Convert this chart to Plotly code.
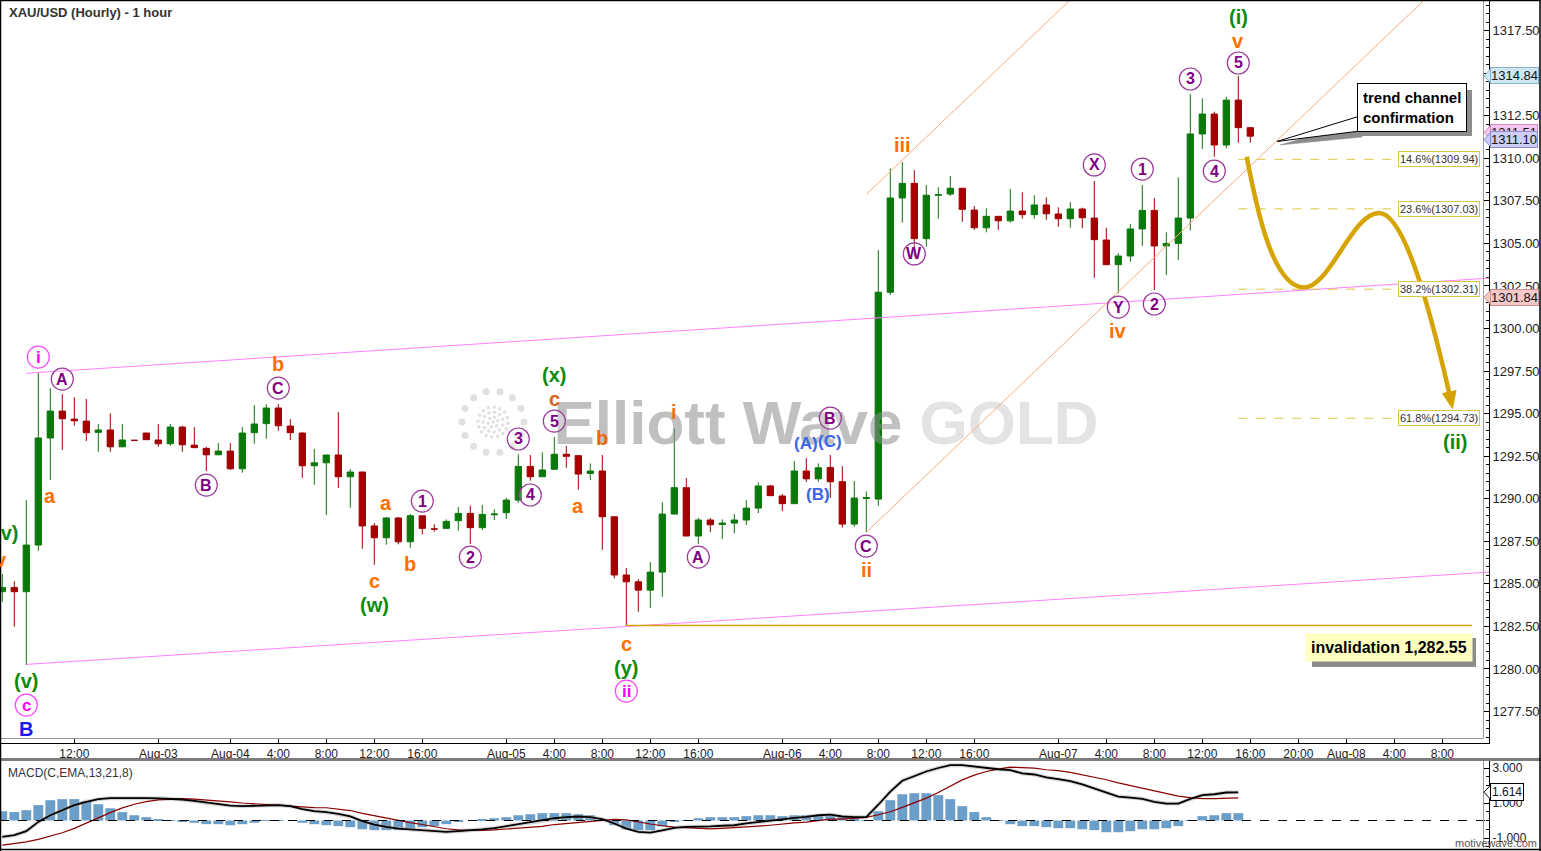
import math
import plotly.graph_objects as go

# ---------------- data ----------------
bars = list(range(105))
opens = [1284.54, 1284.79, 1284.54, 1287.28, 1293.57, 1295.15, 1294.68, 1294.56, 1293.90, 1294.04,
         1293.05, 1293.43, 1293.86, 1293.45, 1293.23, 1294.21, 1293.15, 1292.96, 1292.58, 1292.80,
         1291.76, 1293.88, 1294.41, 1295.33, 1294.27, 1293.86, 1291.94, 1292.11, 1292.57, 1291.29,
         1291.57, 1288.40, 1287.71, 1288.87, 1287.47, 1289.00, 1288.22, 1288.26, 1288.71, 1289.14,
         1288.30, 1289.06, 1289.18, 1289.92, 1291.90, 1291.29, 1291.73, 1292.61, 1292.53, 1291.49,
         1291.63, 1288.94, 1285.52, 1285.12, 1284.63, 1285.69, 1289.10, 1290.65, 1287.81, 1288.75,
         1288.49, 1288.57, 1288.75, 1289.45, 1290.75, 1290.16, 1289.71, 1291.63, 1291.17, 1291.84,
         1291.00, 1288.51, 1290.02, 1289.98, 1302.13, 1307.67, 1308.53, 1305.28, 1307.83, 1307.90,
         1308.24, 1306.96, 1305.92, 1306.59, 1306.33, 1306.90, 1306.69, 1307.26, 1306.73, 1306.45,
         1307.02, 1306.49, 1305.20, 1303.75, 1304.26, 1305.85, 1306.94, 1304.85, 1305.00, 1306.49,
         1311.43, 1312.60, 1310.78, 1313.42, 1311.80]
highs = [1285.58, 1285.16, 1289.92, 1297.40, 1296.49, 1296.15, 1295.96, 1295.86, 1294.39, 1295.02,
         1294.39, 1293.45, 1293.86, 1294.39, 1294.39, 1294.29, 1294.21, 1293.05, 1293.27, 1293.27,
         1294.21, 1295.50, 1295.55, 1295.57, 1294.68, 1293.90, 1292.92, 1292.57, 1295.09, 1291.74,
         1291.57, 1288.57, 1288.92, 1288.92, 1289.10, 1289.00, 1288.50, 1288.79, 1289.51, 1289.59,
         1289.63, 1289.38, 1290.06, 1292.61, 1292.57, 1292.73, 1293.62, 1293.10, 1292.53, 1292.08,
         1292.57, 1288.94, 1285.93, 1285.28, 1286.28, 1289.79, 1294.14, 1291.22, 1288.87, 1288.87,
         1288.79, 1289.10, 1289.92, 1290.96, 1290.82, 1290.28, 1292.21, 1292.39, 1292.08, 1292.57,
         1291.92, 1291.04, 1290.43, 1304.61, 1309.41, 1309.78, 1309.31, 1308.43, 1308.30, 1308.96,
         1308.24, 1307.20, 1307.06, 1306.59, 1308.20, 1308.00, 1307.83, 1307.71, 1307.12, 1307.43,
         1307.10, 1308.67, 1305.92, 1304.42, 1306.14, 1308.43, 1307.67, 1305.65, 1308.88, 1313.76,
         1313.52, 1312.74, 1313.62, 1314.84, 1311.80]
lows = [1283.95, 1282.48, 1280.23, 1286.94, 1291.10, 1292.86, 1294.29, 1293.39, 1292.76, 1292.76,
        1293.05, 1293.41, 1293.47, 1293.05, 1293.11, 1292.76, 1293.00, 1291.63, 1292.58, 1291.69,
        1291.53, 1293.23, 1293.52, 1293.99, 1293.45, 1291.22, 1290.82, 1289.04, 1290.63, 1289.47,
        1287.06, 1286.12, 1287.30, 1287.32, 1287.12, 1287.91, 1288.06, 1288.26, 1288.12, 1287.34,
        1288.16, 1288.75, 1288.81, 1289.76, 1291.06, 1291.29, 1291.73, 1291.82, 1290.53, 1291.10,
        1286.99, 1285.32, 1282.55, 1283.36, 1283.59, 1284.24, 1289.10, 1287.81, 1287.34, 1288.04,
        1287.63, 1287.98, 1288.45, 1289.16, 1290.18, 1289.28, 1289.71, 1290.98, 1291.00, 1290.06,
        1288.30, 1288.35, 1288.03, 1289.59, 1301.97, 1306.22, 1304.22, 1304.81, 1306.45, 1307.78,
        1306.27, 1305.79, 1305.65, 1305.79, 1306.22, 1306.45, 1306.45, 1306.39, 1305.98, 1305.92,
        1305.89, 1302.98, 1303.75, 1302.07, 1303.92, 1304.85, 1302.26, 1303.14, 1304.02, 1305.75,
        1310.55, 1310.09, 1310.59, 1310.92, 1310.92]
closes = [1284.79, 1284.54, 1287.28, 1293.57, 1295.15, 1294.70, 1294.58, 1293.88, 1294.04, 1293.05,
          1293.45, 1293.43, 1293.47, 1293.23, 1294.21, 1293.17, 1293.00, 1292.58, 1292.80, 1291.76,
          1293.86, 1294.39, 1295.33, 1294.29, 1293.88, 1291.94, 1292.11, 1292.57, 1291.29, 1291.57,
          1288.40, 1287.71, 1288.87, 1287.47, 1289.00, 1288.26, 1288.22, 1288.67, 1289.14, 1288.30,
          1289.08, 1289.10, 1289.92, 1291.90, 1291.29, 1291.69, 1292.61, 1292.49, 1291.45, 1291.63,
          1288.94, 1285.52, 1285.12, 1284.63, 1285.69, 1289.10, 1290.65, 1287.81, 1288.75, 1288.47,
          1288.57, 1288.75, 1289.45, 1290.75, 1290.18, 1289.71, 1291.63, 1291.17, 1291.82, 1291.00,
          1288.51, 1290.04, 1290.06, 1302.13, 1307.67, 1308.53, 1305.28, 1307.83, 1307.87, 1308.24,
          1307.00, 1305.92, 1306.59, 1306.33, 1306.90, 1306.69, 1307.26, 1306.74, 1306.45, 1307.02,
          1306.51, 1305.22, 1303.75, 1304.26, 1305.85, 1306.94, 1304.85, 1305.00, 1306.49, 1311.43,
          1312.60, 1310.78, 1313.42, 1311.80, 1311.30]

macd_hist = [0.53, 0.48, 0.59, 0.88, 1.16, 1.22, 1.22, 1.10, 0.93, 0.70,
             0.48, 0.30, 0.19, 0.08, 0.02, -0.08, -0.13, -0.21, -0.21, -0.27,
             -0.21, -0.13, -0.02, 0.01, 0.0, -0.13, -0.21, -0.27, -0.32, -0.38,
             -0.50, -0.55, -0.55, -0.55, -0.44, -0.38, -0.32, -0.21, -0.08, 0.0,
             0.08, 0.13, 0.19, 0.30, 0.36, 0.42, 0.42, 0.42, 0.36, 0.30,
             0.06, -0.27, -0.50, -0.55, -0.55, -0.34, -0.08, 0.02, 0.13, 0.19,
             0.19, 0.19, 0.25, 0.30, 0.30, 0.25, 0.30, 0.30, 0.30, 0.25,
             0.19, 0.11, 0.02, 0.53, 1.16, 1.50, 1.56, 1.56, 1.45, 1.22,
             0.82, 0.48, 0.19, -0.02, -0.21, -0.32, -0.32, -0.38, -0.44, -0.44,
             -0.50, -0.55, -0.67, -0.67, -0.61, -0.50, -0.50, -0.44, -0.32, -0.02,
             0.25, 0.30, 0.42, 0.42, None]
macd_line = [-0.93, -0.84, -0.61, -0.08, 0.30, 0.59, 0.88, 1.07, 1.22, 1.28,
             1.29, 1.29, 1.28, 1.27, 1.25, 1.20, 1.12, 1.02, 0.93, 0.85,
             0.82, 0.84, 0.88, 0.88, 0.82, 0.65, 0.53, 0.48, 0.38, 0.23,
             -0.04, -0.23, -0.36, -0.46, -0.51, -0.55, -0.61, -0.65, -0.61, -0.57,
             -0.51, -0.44, -0.32, -0.21, -0.10, 0.0, 0.13, 0.19, 0.23, 0.19,
             0.08, -0.17, -0.46, -0.65, -0.69, -0.57, -0.42, -0.36, -0.36, -0.34,
             -0.30, -0.27, -0.17, -0.08, 0.0, 0.06, 0.15, 0.21, 0.30, 0.34,
             0.23, 0.19, 0.19, 0.90, 1.65, 2.27, 2.55, 2.80, 3.00, 3.17,
             3.16, 3.07, 3.01, 2.93, 2.88, 2.69, 2.63, 2.46, 2.36, 2.25,
             2.06, 1.83, 1.60, 1.37, 1.31, 1.24, 1.07, 0.97, 0.97, 1.24,
             1.45, 1.50, 1.60, 1.61, None]
macd_signal = [-1.41, -1.33, -1.22, -1.08, -0.90, -0.70, -0.45, -0.17, 0.15, 0.45,
               0.72, 0.93, 1.08, 1.18, 1.23, 1.25, 1.22, 1.18, 1.11, 1.07,
               1.00, 0.95, 0.90, 0.88, 0.83, 0.78, 0.74, 0.73, 0.67, 0.57,
               0.41, 0.27, 0.15, 0.03, -0.12, -0.23, -0.35, -0.47, -0.53, -0.56,
               -0.57, -0.54, -0.49, -0.45, -0.39, -0.33, -0.23, -0.17, -0.10, -0.05,
               0.03, 0.07, 0.04, -0.10, -0.20, -0.30, -0.38, -0.41, -0.46, -0.48,
               -0.45, -0.42, -0.37, -0.32, -0.27, -0.19, -0.14, -0.09, -0.01, 0.08,
               0.08, 0.12, 0.18, 0.33, 0.50, 0.75, 1.00, 1.28, 1.60, 1.96,
               2.32, 2.59, 2.80, 2.94, 3.05, 3.02, 2.99, 2.90, 2.85, 2.75,
               2.62, 2.46, 2.33, 2.15, 2.00, 1.83, 1.67, 1.51, 1.39, 1.31,
               1.25, 1.25, 1.27, 1.29, None]

tick_bars = [6, 13, 19, 23, 27, 31, 35, 42, 46, 50, 54, 58, 65, 69, 73, 77, 81,
             88, 92, 96, 100, 104, 108, 112, 116, 120]
tick_labels = ["12:00", "Aug-03", "Aug-04", "4:00", "8:00", "12:00", "16:00",
               "Aug-05", "4:00", "8:00", "12:00", "16:00", "Aug-06", "4:00", "8:00",
               "12:00", "16:00", "Aug-07", "4:00", "8:00", "12:00", "16:00", "20:00",
               "Aug-08", "4:00", "8:00"]

fib_names = ["14.6%", "23.6%", "38.2%", "61.8%"]
fib_levels = [1309.94, 1307.03, 1302.31, 1294.73]
invalidation_level = 1282.55
price_tags = [("1314.84", 1314.84), ("1311.51", 1311.51), ("1311.10", 1311.10), ("1301.84", 1301.84)]
macd_tag = 1.614

# channel lines: (start bar, start price, slope per bar)
pink_upper = (2, 1297.37, 0.04586)
pink_lower = (2, 1280.27, 0.04446)
orange_upper = (72, 1307.88, 0.6726)
orange_lower = (72, 1288.03, 0.6726)

# ---------------- geometry helpers ----------------
W, H = 1541, 851
PLOT_R = 1489
XMIN, XMAX = (0 - 2.3) / 12.0, (PLOT_R - 2.3) / 12.0
YMIN, YMAX = 1275.65, 1319.30
MYMIN, MYMAX = -1.571, 3.40


def px2x(px):
    return (px - 2.3) / 12.0


def py2p(py):
    return YMAX - py / 17.02


def xp(px):
    return px / PLOT_R


def yp(py):
    return 1 - py / H


GREEN = "#0b780b"
RED = "#a00000"
ORG = "#ff6f00"
GRN = "#0b8a0b"
PUR = "#800080"
MAG = "#ff00ff"
BLU = "#3a66e6"
GOLDC = "#d6a400"
FONT = "Liberation Sans, Arial, sans-serif"

fig = go.Figure()

fig.add_trace(go.Candlestick(
    x=bars, open=opens, high=highs, low=lows, close=closes,
    increasing=dict(line=dict(color=GREEN, width=1), fillcolor=GREEN),
    decreasing=dict(line=dict(color=RED, width=1), fillcolor=RED),
    whiskerwidth=0, xaxis="x", yaxis="y", showlegend=False, hoverinfo="none"))

# watermark (decoration)
fig.add_trace(go.Scatter(
    x=[px2x(728), px2x(1009)], y=[py2p(428), py2p(428)], mode="text",
    text=["<b>Elliott Wave</b>", "<b>GOLD</b>"],
    textfont=dict(family=FONT, size=62,
                  color=["rgba(140,140,140,0.55)", "rgba(200,200,200,0.5)"]),
    textposition="middle center", xaxis="x", yaxis="y", showlegend=False, hoverinfo="none"))

cx, cy = 493, 422
dots_x, dots_y, dots_s = [], [], []
for i in range(14):
    a = 2 * math.pi * i / 14
    dots_x.append(px2x(cx + 31 * math.cos(a)))
    dots_y.append(py2p(cy + 31 * math.sin(a)))
    dots_s.append(7)
for r, n in [(0, 1), (5, 6), (10, 11), (15, 16)]:
    for i in range(n):
        a = 2 * math.pi * i / n + r
        dots_x.append(px2x(cx + r * math.cos(a)))
        dots_y.append(py2p(cy + r * math.sin(a)))
        dots_s.append(3.5)
fig.add_trace(go.Scatter(
    x=dots_x, y=dots_y, mode="markers",
    marker=dict(size=dots_s, color="rgba(200,200,200,0.8)", line=dict(width=0)),
    xaxis="x", yaxis="y", showlegend=False, hoverinfo="none"))

# MACD
fig.add_trace(go.Bar(x=bars, y=macd_hist, width=0.82, marker=dict(color="#6b9ec8", line=dict(width=0)),
                     xaxis="x2", yaxis="y2", showlegend=False, hoverinfo="none"))
fig.add_trace(go.Scatter(x=bars, y=macd_line, mode="lines", line=dict(color="rgba(160,160,160,0.45)", width=4),
                         xaxis="x2", yaxis="y2", showlegend=False, hoverinfo="none"))
fig.add_trace(go.Scatter(x=bars, y=macd_signal, mode="lines", line=dict(color="#8b0000", width=1.2),
                         xaxis="x2", yaxis="y2", showlegend=False, hoverinfo="none"))
fig.add_trace(go.Scatter(x=bars, y=macd_line, mode="lines", line=dict(color="black", width=1.8),
                         xaxis="x2", yaxis="y2", showlegend=False, hoverinfo="none"))

shapes = []


def line_data(x0, y0, x1, y1, color, width=1, dash="solid", yref="y", xref="x"):
    shapes.append(dict(type="line", xref=xref, yref=yref, x0=x0, y0=y0, x1=x1, y1=y1,
                       line=dict(color=color, width=width, dash=dash), layer="above"))


# pink channel
for (b0, p0, s) in (pink_upper, pink_lower):
    line_data(b0, p0, XMAX, p0 + (XMAX - b0) * s, "#ff80ff", 1)
# orange channel
for (b0, p0, s) in (orange_upper, orange_lower):
    b1 = b0 + (YMAX - 0.05 - p0) / s
    line_data(b0, p0, b1, YMAX - 0.05, "#ffaa77", 1)
# invalidation line
line_data(52, invalidation_level, px2x(1472), invalidation_level, GOLDC, 1.5)
# fib lines
for lv in fib_levels:
    line_data(103, lv, px2x(1400), lv, "#dcc640", 1, "dash")

# projected path (gold curve)
pts = [(1246.7, 156.7), (1256, 205), (1272, 287), (1304, 287.5),
       (1330, 287.5), (1352, 213), (1379, 213),
       (1403, 213), (1428, 300), (1449, 392)]
d = "M %.3f,%.3f" % (px2x(pts[0][0]), py2p(pts[0][1]))
for j in range(1, len(pts), 3):
    d += " C " + " ".join("%.3f,%.3f" % (px2x(a), py2p(b)) for a, b in pts[j:j + 3])
shapes.append(dict(type="path", xref="x", yref="y", path=d, line=dict(color=GOLDC, width=4.5), layer="above"))
tri = [(1452.5, 408.5), (1456, 390.5), (1442.5, 393.5)]
shapes.append(dict(type="path", xref="x", yref="y",
                   path="M " + " L ".join("%.3f,%.3f" % (px2x(a), py2p(b)) for a, b in tri) + " Z",
                   fillcolor=GOLDC, line=dict(color=GOLDC, width=1), layer="above"))

# zero line in MACD
line_data(XMIN, 0, XMAX, 0, "black", 1, "dash", yref="y2", xref="x2")


def paper_rect(x0, y0, x1, y1, fill, line_color=None, lw=0):
    shapes.append(dict(type="rect", xref="paper", yref="paper", x0=xp(x0), x1=xp(x1), y0=yp(y1), y1=yp(y0),
                       fillcolor=fill, line=dict(color=line_color or fill, width=lw), layer="above"))


def paper_poly(points, fill, line_color, lw):
    path = "M " + " L ".join("%.5f,%.5f" % (xp(a), yp(b)) for a, b in points) + " Z"
    shapes.append(dict(type="path", xref="paper", yref="paper", path=path, fillcolor=fill,
                       line=dict(color=line_color, width=lw), layer="above"))


# callout shadows / pointer
paper_rect(1362, 90, 1472, 136, "#8c8c8c")
paper_poly([(1280, 145), (1362, 121), (1362, 137)], "#8c8c8c", "#8c8c8c", 0.5)
paper_poly([(1277, 141.5), (1360, 116), (1360, 131)], "white", "black", 1)
# invalidation shadow
paper_rect(1312, 638, 1476, 667, "#8c8c8c")


# frame lines
def paper_line(x0, y0, x1, y1, color, width):
    shapes.append(dict(type="line", xref="paper", yref="paper", x0=xp(x0), x1=xp(x1), y0=yp(y0), y1=yp(y1),
                       line=dict(color=color, width=width), layer="above"))


paper_line(0, 738.5, 1483, 738.5, "#9a9a9a", 1)
paper_line(1483.5, 0, 1483.5, 738.5, "#9a9a9a", 1)
paper_line(1483.5, 761, 1483.5, 848, "#9a9a9a", 1)
paper_line(0, 759.5, W, 759.5, "#7c7c7c", 3)
paper_line(0, 849.5, W, 849.5, "black", 1.5)
paper_line(0.5, 0, 0.5, H, "black", 1.5)
paper_line(0, 0.5, W, 0.5, "black", 1.5)
paper_line(W - 1, 0, W - 1, H, "black", 1.5)

tag_fill = ["#cfe6f3", "#f6c6f0", "#cdcdf8", "#f6c8c8"]
tag_line = ["#86b2cc", "#d08ac8", "#8c8cd0", "#d08c8c"]
# price tag pointers
for (t, v), col, bc in zip(price_tags, tag_fill, tag_line):
    yy = (YMAX - v) * 17.02
    paper_poly([(1484, yy), (1491, yy - 7.5), (1491, yy + 7.5)], col, bc, 1)
myy = 820.5 - 17.5 * macd_tag
paper_poly([(1484, myy), (1491, myy - 7.5), (1491, myy + 7.5)], "white", "black", 1)

annotations = []

# wave labels: text, bar, price, color, size, circle colour
labels = [
    ("(v)", 0.27, 1287.98, GRN, 20, None),
    ("v", -0.11, 1286.40, ORG, 20, None),
    ("(v)", 2, 1279.29, GRN, 20, None),
    ("c", 2, 1277.88, MAG, 17, "#ff44ff"),
    ("B", 2, 1276.47, "#1a1aee", 20, None),
    ("i", 3, 1298.32, MAG, 17, "#ff44ff"),
    ("A", 5, 1297.03, PUR, 16, "#9a3a9a"),
    ("a", 4, 1290.16, ORG, 20, None),
    ("b", 23, 1297.91, ORG, 20, None),
    ("C", 23, 1296.50, PUR, 16, "#9a3a9a"),
    ("B", 17, 1290.80, PUR, 16, "#9a3a9a"),
    ("a", 32, 1289.75, ORG, 20, None),
    ("c", 31, 1285.16, ORG, 20, None),
    ("(w)", 31, 1283.75, GRN, 20, None),
    ("1", 35, 1289.86, PUR, 16, "#9a3a9a"),
    ("b", 34, 1286.16, ORG, 20, None),
    ("2", 39, 1286.57, PUR, 16, "#9a3a9a"),
    ("3", 43, 1293.51, PUR, 16, "#9a3a9a"),
    ("4", 44, 1290.22, PUR, 16, "#9a3a9a"),
    ("5", 46, 1294.56, PUR, 16, "#9a3a9a"),
    ("c", 46, 1295.86, "#d2651a", 20, None),
    ("(x)", 46, 1297.27, GRN, 20, None),
    ("a", 48, 1289.57, ORG, 20, None),
    ("b", 50, 1293.57, "#e8680a", 20, None),
    ("c", 52, 1281.46, ORG, 20, None),
    ("(y)", 52, 1280.05, GRN, 20, None),
    ("ii", 52, 1278.70, MAG, 17, "#ff44ff"),
    ("i", 56, 1295.09, "#f07010", 20, None),
    ("A", 58, 1286.57, PUR, 16, "#9a3a9a"),
    ("(A)", 67, 1293.27, BLU, 17, None),
    ("(C)", 69, 1293.39, BLU, 17, None),
    ("B", 69, 1294.74, PUR, 16, "#9a3a9a"),
    ("(B)", 68, 1290.22, BLU, 17, None),
    ("C", 72, 1287.22, PUR, 16, "#9a3a9a"),
    ("ii", 72, 1285.81, ORG, 20, None),
    ("iii", 75, 1310.78, ORG, 20, None),
    ("W", 76, 1304.38, PUR, 16, "#9a3a9a"),
    ("X", 91, 1309.61, PUR, 16, "#9a3a9a"),
    ("Y", 93, 1301.26, PUR, 16, "#9a3a9a"),
    ("iv", 93, 1299.85, ORG, 20, None),
    ("1", 95, 1309.37, PUR, 16, "#9a3a9a"),
    ("2", 96, 1301.44, PUR, 16, "#9a3a9a"),
    ("3", 99, 1314.66, PUR, 16, "#9a3a9a"),
    ("4", 101, 1309.25, PUR, 16, "#9a3a9a"),
    ("5", 103, 1315.60, PUR, 16, "#9a3a9a"),
    ("v", 103, 1316.89, ORG, 20, None),
    ("(i)", 103, 1318.30, GRN, 20, None),
    ("(ii)", 121.06, 1293.33, GRN, 20, None),
]
for text, b, p, col, size, circ in labels:
    if circ:
        shapes.append(dict(type="circle", xref="x", yref="y", xsizemode="pixel", ysizemode="pixel",
                           xanchor=b, yanchor=p, x0=-11, x1=11, y0=-11, y1=11,
                           line=dict(color=circ, width=1.2), fillcolor="rgba(255,255,255,0.25)", layer="above"))
    annotations.append(dict(x=b, y=p, xref="x", yref="y", text="<b>%s</b>" % text, showarrow=False,
                            xanchor="center", yanchor="middle",
                            font=dict(family=FONT, size=size, color=col)))

# fib labels
for nm, lv in zip(fib_names, fib_levels):
    annotations.append(dict(x=xp(1439), xref="paper", y=lv, yref="y", text="%s(%.2f)" % (nm, lv),
                            showarrow=False, xanchor="center", yanchor="middle",
                            font=dict(family=FONT, size=11, color="#333"),
                            bgcolor="white", bordercolor="#d8c84a", borderwidth=1, borderpad=1))

# price tags on axis
for (t, v), col, bc in zip(price_tags, tag_fill, tag_line):
    annotations.append(dict(x=xp(1490), xref="paper", y=v, yref="y", text=t, showarrow=False,
                            xanchor="left", yanchor="middle", font=dict(family=FONT, size=13, color="#111"),
                            bgcolor=col, bordercolor=bc, borderwidth=1, borderpad=0))
annotations.append(dict(x=xp(1490), xref="paper", y=macd_tag, yref="y2", text="%.3f" % macd_tag, showarrow=False,
                        xanchor="left", yanchor="middle", font=dict(family=FONT, size=12, color="#111"),
                        bgcolor="white", bordercolor="black", borderwidth=1, borderpad=1))

# text boxes
annotations.append(dict(x=xp(1412), y=yp(107.5), xref="paper", yref="paper",
                        text="<b>trend channel<br>confirmation</b>", showarrow=False, align="left",
                        xanchor="center", yanchor="middle", font=dict(family=FONT, size=15, color="black"),
                        bgcolor="white", bordercolor="black", borderwidth=1, borderpad=5))
annotations.append(dict(x=xp(1388.5), y=yp(647.5), xref="paper", yref="paper",
                        text="<b>invalidation 1,282.55</b>", showarrow=False,
                        xanchor="center", yanchor="middle", font=dict(family=FONT, size=16, color="black"),
                        bgcolor="#ffffc0", borderpad=5))
annotations.append(dict(x=xp(7), y=yp(12), xref="paper", yref="paper",
                        text="<b>XAU/USD (Hourly) - 1 hour</b>", showarrow=False,
                        xanchor="left", yanchor="middle", font=dict(family=FONT, size=13, color="#333")))
annotations.append(dict(x=xp(6), y=yp(773), xref="paper", yref="paper",
                        text="MACD(C,EMA,13,21,8)", showarrow=False,
                        xanchor="left", yanchor="middle", font=dict(family=FONT, size=12, color="#333")))
annotations.append(dict(x=xp(1539), y=yp(843), xref="paper", yref="paper",
                        text="motivewave.com", showarrow=False,
                        xanchor="right", yanchor="middle", font=dict(family=FONT, size=11, color="#555")))

fig.update_layout(
    width=W, height=H, autosize=False,
    margin=dict(l=0, r=W - PLOT_R, t=0, b=0),
    paper_bgcolor="white", plot_bgcolor="white",
    showlegend=False, boxgap=0.25, bargap=0.15,
    font=dict(family=FONT, color="#222"),
    xaxis=dict(domain=[0, 1], range=[XMIN, XMAX], anchor="y", tickmode="array",
               tickvals=tick_bars, ticktext=tick_labels, ticks="inside", ticklen=5,
               tickcolor="black", showline=True, linecolor="black", linewidth=1,
               showgrid=False, zeroline=False, tickfont=dict(family=FONT, size=12, color="#222"),
               rangeslider=dict(visible=False), fixedrange=True, automargin=False),
    xaxis2=dict(domain=[0, 1], range=[XMIN, XMAX], anchor="y2", showticklabels=False, ticks="",
                showline=False, showgrid=False, zeroline=False, fixedrange=True, automargin=False),
    yaxis=dict(domain=[1 - 743 / H, 1], range=[YMIN, YMAX], side="right", anchor="x",
               tickmode="linear", tick0=1277.5, dtick=2.5, tickformat=".2f", ticks="inside",
               ticklen=6, tickcolor="black", showline=True, linecolor="black", showgrid=False,
               zeroline=False, tickfont=dict(family=FONT, size=13, color="#222"),
               minor=dict(dtick=0.5, ticks="inside", ticklen=3, tickcolor="black"),
               fixedrange=True, automargin=False),
    yaxis2=dict(domain=[1 - 848 / H, 1 - 761 / H], range=[MYMIN, MYMAX], side="right", anchor="x2",
                tickvals=[-1, 1, 3], ticktext=["-1.000", "1.000", "3.000"], ticks="inside",
                ticklen=6, tickcolor="black", showline=True, linecolor="black", showgrid=False,
                zeroline=False, tickfont=dict(family=FONT, size=12, color="#222"),
                minor=dict(dtick=0.5, ticks="inside", ticklen=3, tickcolor="black"),
                fixedrange=True, automargin=False),
    shapes=shapes, annotations=annotations,
)

fig.write_html("out.html", config={"displayModeBar": False},
               post_script="document.body.style.margin='0';document.body.style.overflow='hidden';")
